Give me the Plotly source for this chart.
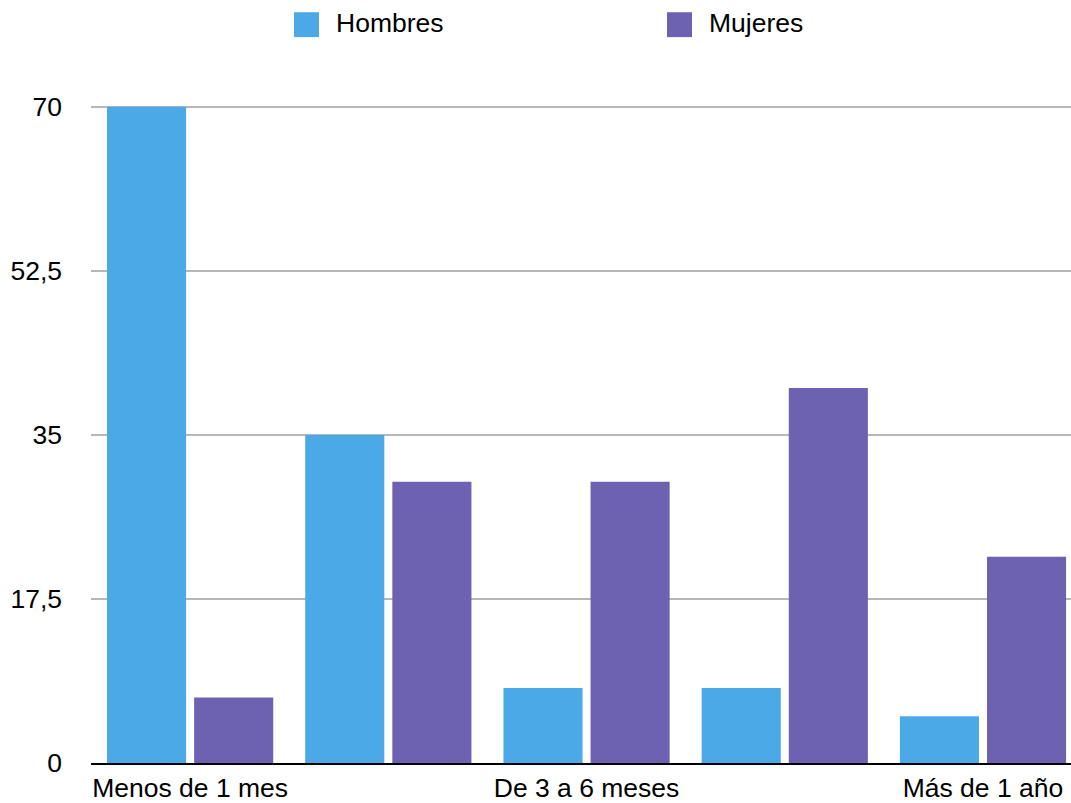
import plotly.graph_objects as go

# Duración por categoría y sexo
categorias = ["Menos de 1 mes", "De 1 a 3 meses", "De 3 a 6 meses",
              "De 6 meses a 1 año", "Más de 1 año"]
hombres = [70, 35, 8, 8, 5]
mujeres = [7, 30, 30, 40, 22]
y_ticks = [0, 17.5, 35, 52.5, 70]
y_max = 70.3

color_h = "#4ca9e7"
color_m = "#6d62b1"
fuente = "Liberation Sans, Arial, sans-serif"
tam = 26.5

# Área de trazado en píxeles
x_izq, ancho = 91, 980
y_base = 766
alto = 659 * y_max / 70

fig = go.Figure()
fig.add_trace(go.Bar(name="Hombres", x=categorias, y=hombres,
                     marker=dict(color=color_h, line=dict(width=0))))
fig.add_trace(go.Bar(name="Mujeres", x=categorias, y=mujeres,
                     marker=dict(color=color_m, line=dict(width=0))))

# Leyenda dibujada a mano para poder usar cuadros grandes
leyenda = [("Hombres", color_h, 294), ("Mujeres", color_m, 667)]
for nombre, color, x0 in leyenda:
    fig.add_shape(type="rect", xref="paper", yref="paper",
                  x0=(x0 - x_izq) / ancho, x1=(x0 + 25 - x_izq) / ancho,
                  y0=(y_base - 12) / alto, y1=(y_base - 37) / alto,
                  fillcolor=color, line=dict(width=0))
    fig.add_annotation(text=nombre, xref="paper", yref="paper",
                       x=(x0 + 40 - x_izq) / ancho, y=(y_base - 23) / alto,
                       xanchor="left", yanchor="middle", showarrow=False,
                       font=dict(family=fuente, size=tam, color="#000000"))

fig.update_layout(
    width=1071, height=803,
    margin=dict(l=x_izq, r=0, t=int(round(y_base - alto)), b=803 - y_base),
    paper_bgcolor="white", plot_bgcolor="white",
    barmode="group", bargap=0.121, bargroupgap=0.092,
    showlegend=False,
    separators=",.",
    font=dict(family=fuente, size=tam, color="#000000"),
)
fig.update_xaxes(
    type="category", range=[-0.5, 4.444],
    tickvals=categorias[::2], ticktext=categorias[::2],
    showgrid=False, showline=True, linecolor="#000000", linewidth=2,
    ticks="", tickfont=dict(size=tam),
)
fig.update_yaxes(
    range=[0, y_max], tickvals=y_ticks,
    showgrid=True, gridcolor="#b7b7b7", gridwidth=2,
    zeroline=False, showline=False, ticks="",
    ticklabelstandoff=28, tickfont=dict(size=tam),
)

fig.write_html("out.html")
